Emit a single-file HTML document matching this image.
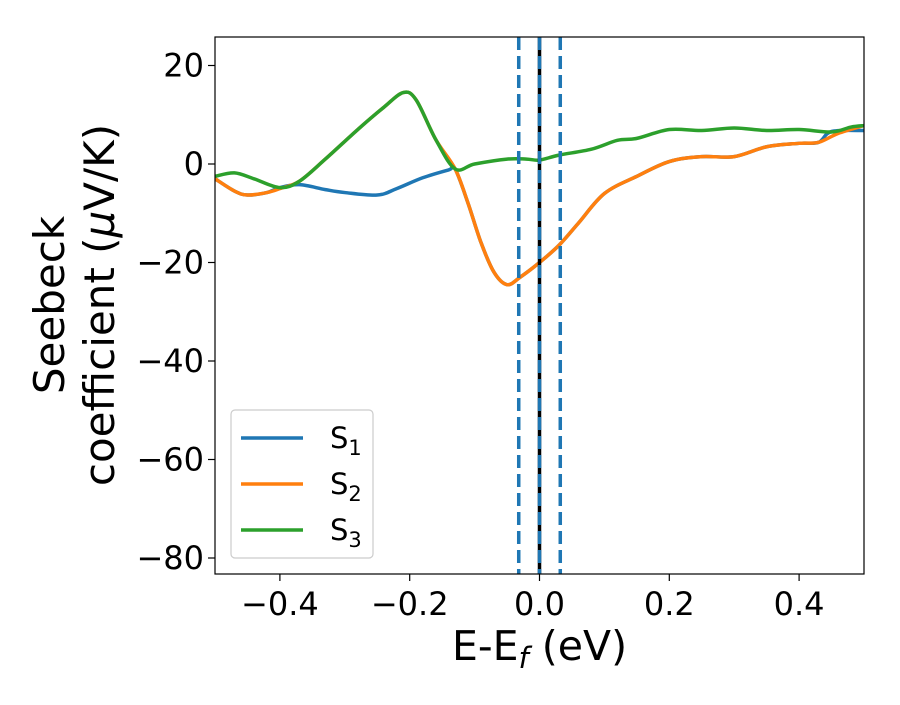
<!DOCTYPE html>
<html><head><meta charset="utf-8"><style>
body{margin:0;background:#fff;}
svg text{font-family:"DejaVu Sans","Liberation Sans",sans-serif;fill:#000;}
</style></head><body>
<svg width="900" height="700" xmlns="http://www.w3.org/2000/svg">
<g id="plot"></g>
</svg>
<script>
const xs1=[-0.5,-0.47,-0.45,-0.42,-0.4,-0.37,-0.33,-0.3,-0.25,-0.22,-0.18,-0.14,-0.13,-0.11,-0.09,-0.07,-0.05,-0.03,0,0.03,0.06,0.1,0.15,0.2,0.25,0.3,0.35,0.4,0.43,0.45,0.5];
const s1=[-3,-5.5,-6.3,-5.8,-4.8,-4.2,-5.2,-5.8,-6.3,-5,-2.8,-1.2,-1,-8,-16,-22,-24.5,-23,-20,-16.5,-12,-6,-2.5,0.5,1.5,1.5,3.5,4.2,4.4,6.6,6.8];
const xs2=[-0.5,-0.47,-0.45,-0.42,-0.4,-0.37,-0.33,-0.28,-0.24,-0.21,-0.19,-0.16,-0.13,-0.11,-0.09,-0.07,-0.05,-0.03,0,0.03,0.06,0.1,0.15,0.2,0.25,0.3,0.35,0.4,0.43,0.46,0.5];
const s2=[-3,-5.5,-6.3,-5.8,-5,-3.5,1,7,11.5,14.5,13,5,-1,-8,-16,-22,-24.5,-23,-20,-16.5,-12,-6,-2.5,0.5,1.5,1.5,3.5,4.2,4.4,6.2,7.8];
const xs3=[-0.5,-0.47,-0.44,-0.4,-0.37,-0.33,-0.28,-0.24,-0.21,-0.19,-0.16,-0.13,-0.1,-0.05,-0.02,0,0.03,0.08,0.12,0.15,0.2,0.25,0.3,0.35,0.4,0.45,0.48,0.5];
const s3=[-2.5,-1.8,-3,-4.8,-3.5,1,7,11.5,14.5,13,5,-1,0,1,1,0.8,1.8,3,4.8,5.2,7,6.8,7.3,6.8,7,6.5,7.5,7.8];
const xTicks=[-0.4,-0.2,0.0,0.2,0.4];
const xTickLabels=["−0.4","−0.2","0.0","0.2","0.4"];
const yTicks=[20,0,-20,-40,-60,-80];
const yTickLabels=["20","0","−20","−40","−60","−80"];
const vlines=[-0.032,0,0.032];

const L=215,R=864,T=37,B=574;
const X=v=>L+(v+0.5)/1.0*(R-L);
const Y=v=>164-v*4.925;
const NS="http://www.w3.org/2000/svg";
const g=document.getElementById('plot');
function mk(t,a,p){const e=document.createElementNS(NS,t);for(const k in a)e.setAttribute(k,a[k]);(p||g).appendChild(e);return e;}
const defs=mk('defs',{});const cp=mk('clipPath',{id:'c'},defs);mk('rect',{x:L,y:T,width:R-L,height:B-T},cp);
function path(xa,ya){const p=xa.map((x,i)=>[X(x),Y(ya[i])]);let d=`M${p[0][0]},${p[0][1]}`;
for(let i=0;i<p.length-1;i++){const p0=p[Math.max(0,i-1)],p1=p[i],p2=p[i+1],p3=p[Math.min(p.length-1,i+2)];
d+=` C${p1[0]+(p2[0]-p0[0])/6},${p1[1]+(p2[1]-p0[1])/6} ${p2[0]-(p3[0]-p1[0])/6},${p2[1]-(p3[1]-p1[1])/6} ${p2[0]},${p2[1]}`;}return d;}
const series=[[xs1,s1,'#1f77b4','series-s1'],[xs2,s2,'#ff7f0e','series-s2'],[xs3,s3,'#2ca02c','series-s3']];
series.forEach(s=>{const e=mk('path',{d:path(s[0],s[1]),fill:'none',stroke:s[2],'stroke-width':3.5,'clip-path':'url(#c)'});

});
const z=mk('line',{x1:X(0),x2:X(0),y1:T,y2:B,stroke:'#000','stroke-width':3.5});


vlines.forEach(v=>{const e=mk('line',{x1:X(v),x2:X(v),y1:T,y2:B,stroke:'#1f77b4','stroke-width':3.5,'stroke-dasharray':'13,6'});

});
const fr=mk('rect',{x:L,y:T,width:R-L,height:B-T,fill:'none',stroke:'#000','stroke-width':1.2});


xTicks.forEach((v,i)=>{mk('line',{x1:X(v),x2:X(v),y1:B,y2:B+7,stroke:'#000','stroke-width':1.2});
const t=mk('text',{x:X(v),y:B+41,'text-anchor':'middle','font-size':32});t.textContent=xTickLabels[i];

});
yTicks.forEach((v,i)=>{mk('line',{x1:L-7,x2:L,y1:Y(v),y2:Y(v),stroke:'#000','stroke-width':1.2});
const t=mk('text',{x:L-11,y:Y(v)+11,'text-anchor':'end','font-size':32});t.textContent=yTickLabels[i];

});
const xt=mk('text',{x:(L+R)/2,y:660,'text-anchor':'middle','font-size':41});
xt.innerHTML='E-E<tspan font-style="italic" font-size="29" dy="8">f</tspan><tspan dy="-8"> (eV)</tspan>';


const yt=mk('text',{'text-anchor':'middle','font-size':42,transform:'translate(0,305) rotate(-90)'});
yt.innerHTML='<tspan x="0" y="64">Seebeck</tspan><tspan x="0" y="114">coefficient  (<tspan font-style="italic">μ</tspan>V/K)</tspan>';


const lg=mk('g',{});


mk('rect',{x:231,y:410,width:142,height:148,rx:4,fill:'#fff',stroke:'#ccc','stroke-width':1.2},lg);
series.forEach((s,i)=>{const y=438+i*46;
mk('line',{x1:241,x2:303,y1:y,y2:y,stroke:s[2],'stroke-width':3.5},lg);
const t=mk('text',{x:330,y:y+10,'font-size':29},lg);t.innerHTML=`S<tspan font-size="21" dy="7">${i+1}</tspan>`;

});
</script>
</body></html>
